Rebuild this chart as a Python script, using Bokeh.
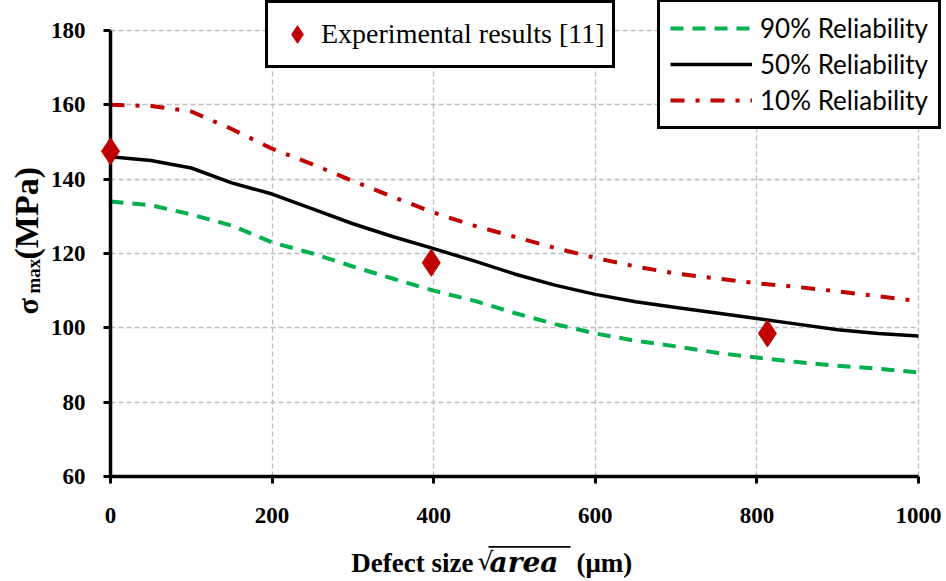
from bokeh.plotting import figure
from bokeh.models import (Legend, LegendItem, Label, FixedTicker, BoxAnnotation, Range1d)
from bokeh.embed import file_html
from bokeh.resources import INLINE
import math

# ---- data ----
defect_size = [0, 50, 100, 150, 200, 250, 300, 350, 400, 450, 500,
               550, 600, 650, 700, 750, 800, 850, 900, 950, 1000]
rel_90 = [134, 133, 130.5, 127.5, 123, 120, 116.5, 113.2, 110, 107.3, 104,
          101, 98.5, 96.5, 95, 93.3, 92, 90.8, 89.8, 89, 88]
rel_50 = [146, 145, 143, 139, 136, 132, 128, 124.5, 121.3, 118, 114.5,
          111.5, 109, 107, 105.5, 104, 102.5, 101, 99.5, 98.5, 97.8]
rel_10 = [160, 159.7, 158.2, 153.5, 148.2, 144, 139.5, 135.2, 131, 127.5, 124.5,
          121.5, 118.8, 116.5, 114.6, 113.3, 112, 111, 109.8, 108.5, 107.2]
exp_x = [0, 397, 813]
exp_y = [147.5, 117.5, 98.5]
x_ticks = [0, 200, 400, 600, 800, 1000]
y_ticks = [60, 80, 100, 120, 140, 160, 180]

SERIF = "Liberation Serif"
W, H = 946, 581
# plot area in canvas pixels: data x 0..1000 -> 110..918, data y 180..60 -> 30..476
PX0, PX1, PY0, PY1 = 110, 918, 30, 476
sx = (PX1 - PX0) / 1000.0
sy = (PY1 - PY0) / 120.0


def xd(px):
    return (px - PX0) / sx


def yd(py):
    return 180 + (PY0 - py) / sy


p = figure(width=W, height=H, output_backend="svg", toolbar_location=None,
           x_range=Range1d(xd(0), xd(W)), y_range=Range1d(yd(H), yd(0)),
           min_border=0, min_border_left=0, min_border_right=0,
           min_border_top=0, min_border_bottom=0)
p.outline_line_color = None
p.background_fill_color = "white"
p.border_fill_color = "white"

p.xaxis[0].fixed_location = 60
p.yaxis[0].fixed_location = 0
p.xaxis[0].bounds = (0, 1000)
p.yaxis[0].bounds = (60, 180)

for ax in (p.xaxis[0], p.yaxis[0]):
    ax.axis_line_width = 3.5
    ax.axis_line_color = "black"
    ax.major_tick_line_width = 3
    ax.major_tick_line_color = "black"
    ax.major_tick_out = 7
    ax.major_tick_in = 0
    ax.minor_tick_line_color = None
    ax.major_label_text_font = SERIF
    ax.major_label_text_font_style = "bold"
    ax.major_label_text_font_size = "23px"
    ax.major_label_text_color = "black"

p.xaxis[0].ticker = FixedTicker(ticks=x_ticks)
p.yaxis[0].ticker = FixedTicker(ticks=y_ticks)
p.xaxis[0].major_label_standoff = 24
p.yaxis[0].major_label_standoff = 18

p.xgrid[0].ticker = FixedTicker(ticks=x_ticks)
p.ygrid[0].ticker = FixedTicker(ticks=y_ticks)
p.xgrid[0].bounds = (0, 1000)
p.ygrid[0].bounds = (60, 180)
p.xgrid[0].cross_bounds = (60, 180)
p.ygrid[0].cross_bounds = (0, 1000)
for g in (p.xgrid[0], p.ygrid[0]):
    g.grid_line_color = "#bdbdbd"
    g.grid_line_dash = "5 3"
    g.grid_line_width = 1.3

r90 = p.line(defect_size, rel_90, line_color="#00b050", line_width=4, line_dash="13 9")
r50 = p.line(defect_size, rel_50, line_color="black", line_width=3.5)
r10 = p.line(defect_size, rel_10, line_color="#c00000", line_width=4, line_dash="14 11 4 11")
rexp = p.scatter(exp_x, exp_y, marker="diamond", size=27, fill_color="#c00000",
                 line_color="#c00000", level="overlay")

leg1 = Legend(items=[LegendItem(label="Experimental results [11]", renderers=[rexp])],
              location=(265, H - 68), orientation="vertical",
              label_text_font=SERIF, label_text_font_size="28px",
              label_text_color="black",
              glyph_width=44, glyph_height=44, label_height=48, label_standoff=2,
              padding=7, border_line_color="black", border_line_width=3,
              border_line_alpha=1,
              background_fill_color="white", background_fill_alpha=1)
leg2 = Legend(items=[LegendItem(label="90% Reliability", renderers=[r90]),
                     LegendItem(label="50% Reliability", renderers=[r50]),
                     LegendItem(label="10% Reliability", renderers=[r10])],
              location=(657, H - 129), orientation="vertical",
              label_text_font="Lato", label_text_font_size="26px",
              label_text_color="black",
              glyph_width=82, glyph_height=32, label_height=32, label_standoff=8,
              spacing=4, padding=10, border_line_color="black", border_line_width=3,
              border_line_alpha=1,
              background_fill_color="white", background_fill_alpha=1)
p.add_layout(leg1, "center")
p.add_layout(leg2, "center")

# ---- x axis title ----
mid = yd(562)
p.add_layout(Label(x=xd(473), y=mid, text="Defect size",
                   text_font=SERIF, text_font_style="bold", text_font_size="27px",
                   text_align="right", text_baseline="middle", text_color="black"))
p.add_layout(Label(x=xd(477), y=yd(561), text="\u221a",
                   text_font="DejaVu Serif", text_font_size="25px",
                   text_align="left", text_baseline="middle", text_color="black"))
p.add_layout(Label(x=xd(489), y=mid, text="area",
                   text_font="DejaVu Serif", text_font_style="bold italic", text_font_size="28px",
                   text_align="left", text_baseline="middle", text_color="black"))
p.add_layout(BoxAnnotation(left=xd(488), right=xd(570), top=yd(545.5), bottom=yd(547.3),
                           fill_color="black", fill_alpha=1, line_color=None))
p.add_layout(Label(x=xd(576), y=mid, text="(\u03bcm)",
                   text_font=SERIF, text_font_style="bold", text_font_size="27px",
                   text_align="left", text_baseline="middle", text_color="black"))

# ---- y axis title ----
p.add_layout(Label(x=xd(27), y=yd(314), text="\u03c3",
                   text_font=SERIF, text_font_style="bold", text_font_size="30px",
                   text_align="left", text_baseline="middle", angle=math.pi / 2,
                   text_color="black"))
p.add_layout(Label(x=xd(33), y=yd(293), text="max",
                   text_font=SERIF, text_font_style="bold", text_font_size="19px",
                   text_align="left", text_baseline="middle", angle=math.pi / 2,
                   text_color="black"))
p.add_layout(Label(x=xd(26), y=yd(259), text="(MPa)",
                   text_font=SERIF, text_font_style="bold", text_font_size="34px",
                   text_align="left", text_baseline="middle", angle=math.pi / 2,
                   text_color="black"))

open("out.html", "w").write(file_html(p, INLINE))
